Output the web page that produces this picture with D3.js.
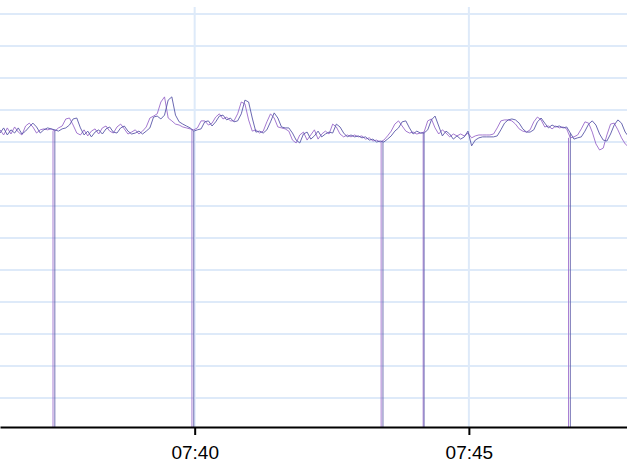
<!DOCTYPE html>
<html>
<head>
<meta charset="utf-8">
<script src="https://cdn.jsdelivr.net/npm/d3@7"></script>
<style>
  html, body { margin: 0; padding: 0; background: #fff; }
  svg { display: block; }
</style>
</head>
<body>
<svg id="chart" width="627" height="476"></svg>
<script>
// ---- data ----
const startTime = new Date(2020, 0, 1, 7, 36, 27);
const endTime = new Date(2020, 0, 1, 7, 47, 53);
const sampleStepSec = 4;
const gridValues = [10, 20, 30, 40, 50, 60, 70, 80, 90, 100, 110, 120, 130];
const tickLabels = ["07:40", "07:45"];

const seriesA = [ // purple
93.8,92.2,94.4,92.5,94.7,93.1,92.2,95.0,95.9,94.7,92.8,93.8,94.1,93.8,94.1,93.4,94.4,95.0,97.2,97.5,
95.3,92.8,92.2,93.8,91.9,93.4,94.1,92.5,94.4,95.0,93.4,92.8,94.7,95.6,94.1,92.5,93.1,93.8,92.5,93.4,
94.7,97.5,98.1,98.8,102.5,104.1,97.5,96.6,95.6,95.3,94.7,94.4,94.1,93.8,94.4,96.6,96.6,95.3,95.9,97.8,
98.8,97.2,97.8,96.6,96.6,98.8,102.5,101.9,96.9,93.4,93.8,92.8,93.4,96.3,98.8,97.5,94.7,94.4,94.1,93.4,
90.6,89.7,92.2,93.1,90.6,92.2,93.8,90.9,92.5,93.4,92.5,95.6,94.7,92.5,91.6,92.2,91.6,92.2,91.6,91.9,
90.9,91.3,90.3,90.6,90.0,90.6,91.9,93.4,95.6,96.6,95.0,93.4,92.8,93.1,92.5,92.8,93.1,96.6,97.2,94.4,
92.5,93.8,92.8,91.6,92.5,91.9,92.5,91.9,92.8,91.3,91.9,92.2,92.2,92.2,92.2,92.5,94.4,96.6,96.9,96.9,
96.6,95.6,94.1,93.4,93.1,93.8,96.3,97.8,96.9,94.7,95.0,94.1,95.0,94.4,94.7,94.1,91.3,91.6,92.2,94.1,
96.3,95.9,93.1,89.4,87.5,88.1,92.2,95.6,95.9,93.8,91.3,89.4,88.4
];
const seriesB = [ // blue
92.8,94.4,92.2,93.8,92.8,94.4,92.5,93.4,94.7,95.9,94.7,92.8,93.8,94.4,94.1,93.8,93.4,94.1,94.4,95.3,
97.2,97.5,94.4,92.2,93.4,91.6,93.1,93.8,92.5,94.1,94.7,93.1,92.8,94.4,95.0,93.4,92.5,92.8,93.4,92.5,
93.4,94.4,97.8,98.1,97.2,98.4,103.1,104.1,98.4,96.3,95.6,95.0,94.4,93.4,93.8,94.1,96.3,96.6,95.0,96.3,
98.1,98.4,96.9,97.5,96.3,96.6,98.8,103.1,102.5,97.5,93.1,93.4,92.8,93.8,96.3,99.1,97.5,94.7,94.4,94.4,
92.8,90.6,89.7,92.5,93.1,90.9,91.9,93.4,91.6,92.5,93.1,92.8,95.6,94.7,92.8,91.6,92.2,91.6,91.9,91.3,
91.6,90.6,90.9,90.0,90.3,90.0,90.9,91.9,93.4,94.4,96.3,96.6,94.4,92.5,93.4,92.8,92.8,93.8,96.9,98.1,
95.0,91.9,93.4,92.5,90.9,91.9,90.9,91.6,93.4,88.8,90.6,91.3,91.6,91.6,91.6,91.6,91.9,93.8,95.9,96.9,
97.2,96.9,95.9,94.1,93.1,93.1,93.8,96.3,97.5,95.9,94.4,95.3,94.7,95.0,94.4,94.7,92.8,90.9,91.3,91.6,
93.4,95.6,96.6,95.3,92.5,90.6,90.3,92.5,95.3,96.9,95.9,93.1,91.6
];
// seconds after start at which each signal drops to zero
const dropsA = [58, 210, 417, 463, 622];
const dropsB = [60, 212, 419, 464, 624];

const seriesColors = ["#9a6acb", "#5a58a8"];

// ---- build ----
const tAt = s => new Date(startTime.getTime() + s * 1000);
const lineData = [seriesA, seriesB].map(vals => vals.map((v, i) => ({ t: tAt(i * sampleStepSec), v })));
const dropData = [[dropsA, seriesA], [dropsB, seriesB]].map(([drops, vals], si) =>
  drops.map(s => ({ si, pts: [
    { t: tAt(s), v: vals[Math.min(vals.length - 1, Math.round(s / sampleStepSec))] },
    { t: tAt(s), v: 0 }
  ] }))).flat();

const W = 627;
const plotTop = 7, plotBottom = 427;
const svg = d3.select("#chart");

const x = d3.scaleTime().domain([startTime, endTime]).range([0, W]);
const y = d3.scaleLinear().domain([0, 130]).range([430, 14]);

const ticks = x.ticks(d3.timeMinute.every(5));
const fmt = d3.timeFormat("%H:%M");

// grid
const grid = svg.append("g");
grid.selectAll("line.h").data(gridValues).join("line")
  .attr("x1", 0).attr("x2", W)
  .attr("y1", d => y(d)).attr("y2", d => y(d))
  .attr("stroke", "#deeaf9").attr("stroke-width", 2);
grid.selectAll("line.v").data(ticks).join("line")
  .attr("x1", d => x(d)).attr("x2", d => x(d))
  .attr("y1", plotTop).attr("y2", plotBottom)
  .attr("stroke", "#deeaf9").attr("stroke-width", 2);

svg.append("clipPath").attr("id", "clip").append("rect")
  .attr("x", 0).attr("y", plotTop).attr("width", W).attr("height", plotBottom - plotTop);

const line = d3.line().x(d => x(d.t)).y(d => y(d.v));
const plot = svg.append("g").attr("clip-path", "url(#clip)");
plot.selectAll("path.drop").data(dropData).join("path")
  .attr("class", "drop")
  .attr("d", d => line(d.pts))
  .attr("fill", "none")
  .attr("stroke", d => seriesColors[d.si])
  .attr("stroke-width", 1)
  .attr("stroke-opacity", 0.85);
plot.selectAll("path.series").data(lineData).join("path")
  .attr("class", "series")
  .attr("d", line)
  .attr("fill", "none")
  .attr("stroke", (d, i) => seriesColors[i])
  .attr("stroke-width", 1)
  .attr("stroke-opacity", 0.9);

// axis
const axis = d3.axisBottom(x).tickValues(ticks)
  .tickFormat((d, i) => tickLabels[i] || fmt(d)).tickSize(8).tickSizeOuter(0);
const gx = svg.append("g").attr("transform", `translate(0,${plotBottom})`).call(axis);
gx.select(".domain").attr("stroke", "#000").attr("stroke-width", 2);
gx.selectAll(".tick line").attr("stroke", "#000").attr("stroke-width", 2);
gx.selectAll(".tick text").attr("fill", "#000")
  .style("font-family", "'Liberation Sans', Arial, sans-serif").style("font-size", "19px")
  .attr("y", 32).attr("dy", null);
</script>
</body>
</html>
